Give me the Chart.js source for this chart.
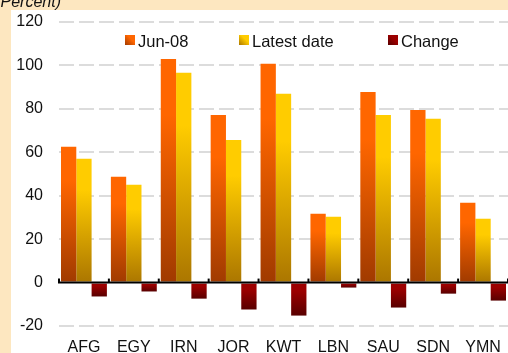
<!DOCTYPE html>
<html>
<head>
<meta charset="utf-8">
<script src="https://cdn.jsdelivr.net/npm/chart.js@4.4.1/dist/chart.umd.min.js"></script>
<style>
  html, body { margin: 0; padding: 0; overflow: hidden; background: #fde7c0; }
  canvas { display: block; }
</style>
</head>
<body>
<canvas id="chart" width="508" height="357"></canvas>
<script>
// Country codes along the x axis
const categories = ['AFG', 'EGY', 'IRN', 'JOR', 'KWT', 'LBN', 'SAU', 'SDN', 'YMN'];
// Values in percent
const jun08 = [62.5, 48.7, 103, 77.2, 100.8, 31.7, 87.8, 79.5, 36.8];
const latestDate = [57, 45.1, 96.6, 65.7, 86.9, 30.3, 77.2, 75.4, 29.4];
const change = [-6.4, -4.1, -7.4, -12.4, -15.2, -2.3, -11.5, -5.1, -8.3];
// Value axis
const yMin = -20;
const yMax = 120;
const yStep = 20;
const unitNote = '(Percent)';

const FONT = "'Liberation Sans', Arial, sans-serif";

// Bright (top) and dark (base) shades for each series
const shades = {
  'Jun-08': ['#ff6600', '#a03a00'],
  'Latest date': ['#ffcc00', '#ab7600'],
  'Change': ['#9c0000', '#580000']
};

function barFill(ctx) {
  const [light, dark] = shades[ctx.dataset.label];
  if (ctx.type !== 'data') return light;
  const chart = ctx.chart;
  const y = chart.scales.y;
  if (!chart.chartArea || !y) return light;
  const p0 = y.getPixelForValue(0);
  const p1 = y.getPixelForValue(ctx.raw);
  const top = Math.min(p0, p1), bottom = Math.max(p0, p1);
  if (bottom - top < 1) return light;
  const g = chart.ctx.createLinearGradient(0, top, 0, bottom);
  g.addColorStop(0, light);
  g.addColorStop(0.25, light);
  g.addColorStop(1, dark);
  return g;
}

// Beige frame, white panel and the unit note
const framePlugin = {
  id: 'frame',
  beforeDraw(chart) {
    const c = chart.ctx;
    c.save();
    c.fillStyle = '#fde7c0';
    c.fillRect(0, 0, chart.width, chart.height);
    c.fillStyle = '#ffffff';
    c.fillRect(11, 10, chart.width - 11, chart.height - 10);
    c.fillStyle = '#111111';
    c.font = 'italic 16px ' + FONT;
    c.textAlign = 'right';
    c.textBaseline = 'alphabetic';
    c.fillText(unitNote, 61, 7);
    c.restore();
  }
};

// Black zero line with small tick marks between categories
const zeroAxisPlugin = {
  id: 'zeroAxis',
  afterDatasetsDraw(chart) {
    const c = chart.ctx;
    const x = chart.scales.x;
    const y = chart.scales.y;
    const y0 = y.getPixelForValue(0);
    const area = chart.chartArea;
    c.save();
    c.strokeStyle = '#000000';
    c.lineWidth = 2;
    c.beginPath();
    c.moveTo(area.left - 1, y0);
    c.lineTo(area.right, y0);
    c.stroke();
    const n = categories.length;
    const step = (x.right - x.left) / n;
    for (let i = 0; i <= n; i++) {
      const bx = x.left + i * step;
      c.beginPath();
      c.moveTo(bx, y0);
      c.lineTo(bx, y0 - 4);
      c.stroke();
    }
    c.restore();
  }
};

// Legend laid out inside the plot area
const legendPlugin = {
  id: 'innerLegend',
  afterDraw(chart) {
    const c = chart.ctx;
    const starts = [125, 239, 388];
    const boxTop = 35, box = 10;
    c.save();
    c.font = '16.5px ' + FONT;
    c.textBaseline = 'alphabetic';
    c.textAlign = 'left';
    chart.data.datasets.forEach((ds, i) => {
      const [light, dark] = shades[ds.label];
      const bx = starts[i];
      const g = c.createLinearGradient(bx + box, boxTop, bx, boxTop + box);
      g.addColorStop(0, light);
      g.addColorStop(0.4, light);
      g.addColorStop(1, dark);
      c.fillStyle = g;
      c.fillRect(bx, boxTop, box, box);
      c.fillStyle = '#111111';
      c.fillText(ds.label, bx + box + 3, boxTop + 11.5);
    });
    c.restore();
  }
};

new Chart(document.getElementById('chart'), {
  type: 'bar',
  data: {
    labels: categories,
    datasets: [
      { label: 'Jun-08', data: jun08, backgroundColor: barFill },
      { label: 'Latest date', data: latestDate, backgroundColor: barFill },
      { label: 'Change', data: change, backgroundColor: barFill }
    ]
  },
  options: {
    responsive: false,
    animation: false,
    devicePixelRatio: 1,
    layout: { padding: { top: 22, left: 0, right: 0, bottom: 0 } },
    datasets: {
      bar: { categoryPercentage: 0.92, barPercentage: 1.0, borderWidth: 0 }
    },
    plugins: {
      legend: { display: false },
      tooltip: { enabled: false }
    },
    scales: {
      x: {
        grid: { display: false, drawTicks: false },
        border: { display: false },
        ticks: { color: '#111111', font: { family: FONT, size: 16 }, padding: 12, maxRotation: 0, autoSkip: false },
        afterFit(scale) { scale.height = 31; scale.paddingLeft = 0; scale.paddingRight = 0; }
      },
      y: {
        min: yMin,
        max: yMax,
        ticks: { stepSize: yStep, color: '#111111', font: { family: FONT, size: 16 }, padding: 16 },
        grid: {
          drawTicks: false,
          lineWidth: 2,
          color: (ctx) => (ctx.tick && ctx.tick.value === 0) ? 'rgba(0,0,0,0)' : '#dcdcdc'
        },
        border: { display: false, dash: [15, 5] },
        afterFit(scale) { scale.width = 59; scale.paddingTop = 0; scale.paddingBottom = 0; }
      }
    }
  },
  plugins: [framePlugin, zeroAxisPlugin, legendPlugin]
});
</script>
</body>
</html>
